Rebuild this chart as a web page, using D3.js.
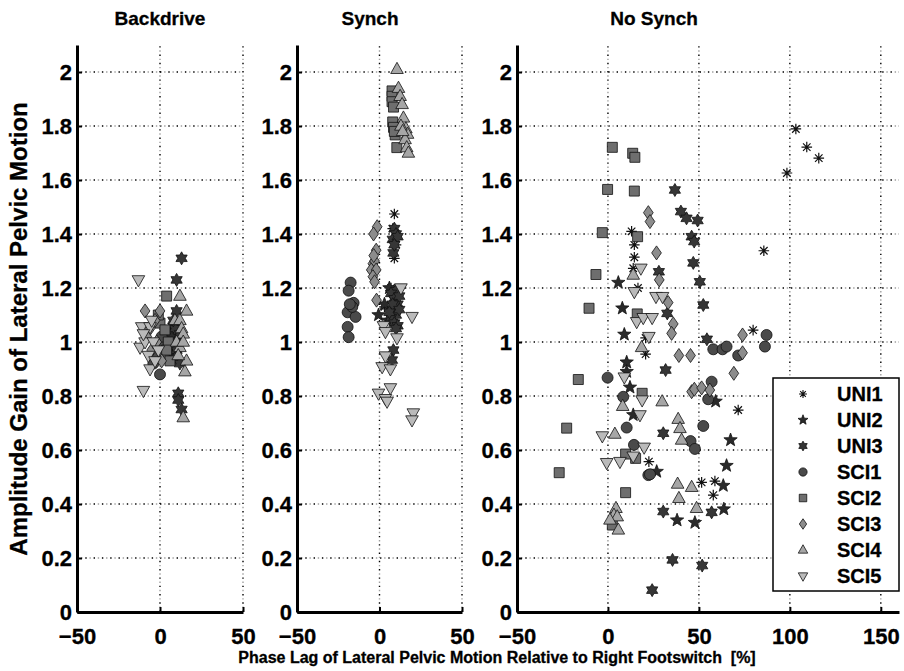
<!DOCTYPE html>
<html lang="en">
<head>
<meta charset="UTF-8">
<title>Amplitude Gain vs Phase Lag</title>
<script src="https://cdn.jsdelivr.net/npm/d3@7"></script>
<style>
  body { margin: 0; background: #fff; }
  text { font-family: "Liberation Sans", Arial, sans-serif; font-weight: bold; fill: #000; stroke: #000; stroke-width: 0.3px; }
</style>
</head>
<body>
<svg id="chart" width="904" height="671"></svg>
<script>

// ---- data (phase lag %, amplitude gain) ----
var subjects = ["UNI1", "UNI2", "UNI3", "SCI1", "SCI2", "SCI3", "SCI4", "SCI5"];
var panelTitles = ["Backdrive", "Synch", "No Synch"];
var yTicks = [0, 0.2, 0.4, 0.6, 0.8, 1, 1.2, 1.4, 1.6, 1.8, 2];
var xTicksShort = [-50, 0, 50];
var xTicksLong = [-50, 0, 50, 100, 150];

var backdrive = {
  UNI1: [[8,1.02],[9,0.98],[7,1.05]],
  UNI2: [[6,0.98],[8,0.95],[7,1.02],[9,1.06]],
  UNI3: [[13,1.31],[10,1.23],[10,1.115],[9,1.05],[11,1.0],[10,0.97],[9,0.94],[12,0.92],[11,0.81],[11,0.785],[13,0.75],[8,1.08],[12,1.03]],
  SCI1: [[0,0.88],[-2,0.95],[2,0.98],[1,1.02],[-4,0.92]],
  SCI2: [[4,1.17],[0,1.07],[3,1.045],[5,1.0],[2,0.95],[6,0.93],[-1,1.1],[4,0.97]],
  SCI3: [[-9,1.115],[0,1.115],[-6,1.05],[-3,1.08],[-5,0.97],[-2,1.0],[-8,1.02],[1,0.93]],
  SCI4: [[12,1.17],[16,1.115],[9,1.08],[12,1.08],[13,1.05],[14,1.03],[16,0.93],[15,0.89],[14,0.72],[12,0.98],[10,1.0],[14,1.0],[11,0.95]],
  SCI5: [[-13,1.23],[-11,1.056],[-6,1.056],[-10,0.82],[-6,0.9],[-12,0.98],[-9,1.0],[-7,0.95],[-4,1.0],[-3,0.93],[-10,1.03],[-1,0.97],[-5,1.08]]
};

var synch = {
  UNI1: [[9,1.474],[8,1.42],[10,1.36],[9,1.31],[3,1.13],[9,1.15],[7,1.2]],
  UNI2: [[-0.6,1.1],[3,1.14],[6,1.2],[5,1.08]],
  UNI3: [[8.4,1.33],[9,1.42],[10,1.4],[8,1.38],[11,1.39],[9,1.36],[10,1.19],[7,1.18],[9,1.16],[11,1.14],[8,1.12],[10,1.1],[7,1.09],[9,1.07],[11,1.06],[10,1.05],[8,1.14],[12,1.12],[8.4,0.97],[7.6,0.933],[6,1.11],[12,1.17]],
  SCI1: [[-17.5,1.22],[-18.7,1.19],[-15.7,1.145],[-17.5,1.126],[-19.3,1.11],[-14.5,1.093],[-19.3,1.056],[-18.7,1.018],[-16.5,1.13],[-18,1.14]],
  SCI2: [[7.6,1.93],[7.6,1.91],[7.6,1.89],[8.5,1.87],[8,1.815],[8.5,1.795],[9.5,1.767],[10.5,1.72],[9,1.78]],
  SCI3: [[-1.4,1.427],[-3.6,1.40],[-4,1.29],[-3,1.3],[-5,1.267],[-2,1.267],[-4,1.242],[-3,1.223],[-1.8,1.155],[-2,1.34],[-3.5,1.32]],
  SCI4: [[10.6,2.01],[11.5,1.94],[12.5,1.91],[13.7,1.88],[14.5,1.83],[16,1.79],[17,1.77],[15.5,1.75],[16.5,1.72],[17.5,1.70],[13,1.8],[14,1.78]],
  SCI5: [[13,1.2],[19.7,1.094],[2.4,1.06],[3.6,1.038],[10.6,1.015],[3.6,0.948],[1.6,0.908],[6.6,0.9],[-0.6,0.81],[6.6,0.83],[3.6,0.79],[4.6,0.78],[20.5,0.737],[19.7,0.711]]
};

var noSynch = {
  UNI1: [[103.3,1.789],[109.3,1.722],[115.9,1.681],[98.4,1.626],[85.7,1.338],[79.8,1.044],[71.6,0.748],[13,1.41],[14.5,1.36],[14.5,1.314],[13.9,1.273],[16.5,1.2],[20.7,1.015],[20.7,0.955],[22.5,0.557],[51.5,0.48],[58.8,0.485],[57.9,0.433]],
  UNI2: [[5.7,1.22],[7.9,1.125],[9,1.028],[10.3,0.925],[10.3,0.89],[12.1,0.832],[13.9,0.73],[26.8,0.52],[38,0.34],[47.8,0.331],[59.2,0.78],[67.4,0.637],[65.2,0.542],[63.4,0.468],[63.7,0.381]],
  UNI3: [[36.8,1.563],[40.1,1.483],[43.2,1.458],[49.3,1.45],[46,1.39],[47.4,1.372],[46.9,1.293],[28,1.26],[50.5,1.223],[52.4,1.137],[32.6,1.106],[54.4,1.01],[31.7,0.896],[30.4,0.662],[30.4,0.372],[57,0.369],[35.5,0.193],[51.8,0.172],[24.3,0.081]],
  SCI1: [[-0.2,0.868],[8.4,0.797],[10.3,0.683],[14.3,0.619],[22.2,0.507],[23.1,0.51],[45.4,0.633],[47.8,0.604],[52.4,0.689],[55.1,0.788],[57,0.853],[57.9,0.973],[63,0.973],[65.2,0.983],[71.6,0.95],[87.2,1.026],[86.3,0.983]],
  SCI2: [[2.4,1.721],[13.6,1.699],[14.8,1.684],[-0.2,1.565],[14.5,1.559],[-3.1,1.405],[16.3,1.39],[-6.6,1.25],[-10.4,1.125],[16.1,1.104],[-16.3,0.861],[-22.7,0.681],[-26.8,0.516],[18.8,0.81],[9.7,0.585],[15.2,0.569],[9.7,0.442],[2.4,0.322]],
  SCI3: [[22.2,1.479],[23.1,1.446],[26.7,1.33],[28.2,1.23],[33.1,1.146],[35.9,1.067],[35,1.032],[39,0.95],[45.4,0.95],[46,0.816],[47.5,0.825],[51.5,0.83],[56,0.822],[74,1.026],[74,0.96],[69.2,0.884]],
  SCI4: [[13.9,1.248],[18.5,0.98],[8.1,0.762],[29.8,0.779],[3.8,0.659],[38.6,0.714],[39.6,0.68],[40.5,0.637],[38.3,0.474],[39,0.421],[46,0.462],[48.7,0.384],[4.4,0.384],[3.3,0.359],[5.1,0.353],[1.1,0.341],[5.7,0.304]],
  SCI5: [[18.1,1.273],[14.5,1.186],[26.4,1.168],[30,1.168],[15.8,1.075],[19.4,1.09],[24.3,1.09],[22.5,1.02],[9,0.87],[18.8,0.785],[17.6,0.73],[-3.1,0.652],[19.9,0.61],[-0.7,0.553],[6.6,0.557],[13.9,0.577]]
};

// ---- styling ----
var markerType = {UNI1:"asterisk", UNI2:"star5", UNI3:"star6", SCI1:"circle", SCI2:"square", SCI3:"diamond", SCI4:"triUp", SCI5:"triDown"};
var markerFill = {UNI1:"none", UNI2:"#2a2a2a", UNI3:"#363636", SCI1:"#4a4a4a", SCI2:"#6e6e6e", SCI3:"#8c8c8c", SCI4:"#a6a6a6", SCI5:"#bababa"};
var markerSize = {UNI1:5.3, UNI2:7, UNI3:6.5, SCI1:5.5, SCI2:5, SCI3:5.4, SCI4:7, SCI5:7};

function markerPath(type, r) {
  var p = d3.path(), i, a, rr;
  if (type === "circle") {
    p.arc(0, 0, r, 0, 2 * Math.PI);
  } else if (type === "square") {
    p.rect(-r, -r, 2 * r, 2 * r);
  } else if (type === "diamond") {
    p.moveTo(0, -r * 1.3); p.lineTo(r * 0.9, 0); p.lineTo(0, r * 1.3); p.lineTo(-r * 0.9, 0); p.closePath();
  } else if (type === "triUp" || type === "triDown") {
    var s = type === "triUp" ? 1 : -1;
    p.moveTo(0, -s * r); p.lineTo(r * 0.9, s * r * 0.6); p.lineTo(-r * 0.9, s * r * 0.6); p.closePath();
  } else if (type === "star5" || type === "star6") {
    var n = type === "star5" ? 5 : 6, inner = type === "star5" ? 0.42 : 0.58;
    for (i = 0; i < 2 * n; i++) {
      a = -Math.PI / 2 + i * Math.PI / n;
      rr = i % 2 ? r * inner : r;
      if (i === 0) p.moveTo(rr * Math.cos(a), rr * Math.sin(a)); else p.lineTo(rr * Math.cos(a), rr * Math.sin(a));
    }
    p.closePath();
  } else if (type === "asterisk") {
    for (i = 0; i < 4; i++) {
      a = i * Math.PI / 4;
      p.moveTo(-r * Math.cos(a), -r * Math.sin(a)); p.lineTo(r * Math.cos(a), r * Math.sin(a));
    }
  }
  return p.toString();
}

var svg = d3.select("#chart");
var y = d3.scaleLinear().domain([0, 2.1]).range([612, 45]);

var panels = [
  {title: panelTitles[0], data: backdrive, x: d3.scaleLinear().domain([-50, 50]).range([77, 243]), ticks: xTicksShort, titleX: 160},
  {title: panelTitles[1], data: synch, x: d3.scaleLinear().domain([-50, 50]).range([297, 462]), ticks: xTicksShort, titleX: 370},
  {title: panelTitles[2], data: noSynch, x: d3.scaleLinear().domain([-50, 160]).range([517, 899]), ticks: xTicksLong, titleX: 654}
];

function dotted(g, x1, y1, x2, y2) {
  g.append("line").attr("x1", x1).attr("y1", y1).attr("x2", x2).attr("y2", y2)
    .attr("stroke", "#000").attr("stroke-width", 1.4).attr("stroke-dasharray", "1.4 6.9");
  g.append("line").attr("x1", x1).attr("y1", y1).attr("x2", x2).attr("y2", y2)
    .attr("stroke", "#a0a0a0").attr("stroke-width", 1.4).attr("stroke-dasharray", "1.4 6.9").attr("stroke-dashoffset", -4.15);
}

panels.forEach(function(pn) {
  var g = svg.append("g");
  var x = pn.x;
  var x0 = x.range()[0], x1 = x.range()[1];

  // grid
  var grid = g.append("g");
  yTicks.forEach(function(t) { if (t > 0) dotted(grid, x0, y(t), x1, y(t)); });
  pn.ticks.forEach(function(t) { if (t > -50) dotted(grid, x(t), y(0), x(t), y(2.1)); });

  // axes
  var ya = g.append("g").attr("transform", "translate(" + x0 + ",0)")
    .call(d3.axisLeft(y).tickValues(yTicks).tickSize(-5).tickSizeOuter(0).tickPadding(5).tickFormat(function(d) { return String(+d.toFixed(1)); }));
  ya.select(".domain").attr("stroke-width", 3);
  ya.selectAll(".tick line").attr("stroke-width", 2);
  ya.selectAll("text").attr("font-size", 22).attr("font-family", null);

  var xa = g.append("g").attr("transform", "translate(0," + y(0) + ")")
    .call(d3.axisBottom(x).tickValues(pn.ticks).tickSize(-5).tickSizeOuter(0).tickPadding(16).tickFormat(d3.format("d")));
  xa.select(".domain").attr("stroke-width", 3);
  xa.selectAll(".tick line").attr("stroke-width", 2);
  xa.selectAll("text").attr("font-size", 22).attr("font-family", null);

  // title
  g.append("text").attr("x", pn.titleX).attr("y", 25).attr("text-anchor", "middle")
    .attr("font-size", 19).text(pn.title);

  // points
  subjects.forEach(function(s) {
    g.append("g").selectAll("path").data(pn.data[s]).enter().append("path")
      .attr("transform", function(d) { return "translate(" + x(d[0]) + "," + y(d[1]) + ")"; })
      .attr("d", markerPath(markerType[s], markerSize[s]))
      .attr("fill", markerFill[s])
      .attr("stroke", "#111")
      .attr("stroke-width", s === "UNI1" ? 1.2 : 0.8);
  });
});

// axis labels
svg.append("text").attr("transform", "translate(27,329) rotate(-90)").attr("text-anchor", "middle")
  .attr("font-size", 24).text("Amplitude Gain of Lateral Pelvic Motion");
svg.append("text").attr("x", 497).attr("y", 663).attr("text-anchor", "middle")
  .attr("font-size", 16).attr("xml:space", "preserve").text("Phase Lag of Lateral Pelvic Motion Relative to Right Footswitch  [%]");

// legend
var lg = svg.append("g");
lg.append("rect").attr("x", 773).attr("y", 378).attr("width", 126).attr("height", 213)
  .attr("fill", "#fff").attr("stroke", "#000").attr("stroke-width", 1.5);
subjects.forEach(function(s, i) {
  var ly = 394 + i * 26;
  lg.append("path").attr("transform", "translate(803," + ly + ")")
    .attr("d", markerPath(markerType[s], markerSize[s] * 0.75))
    .attr("fill", markerFill[s]).attr("stroke", "#111").attr("stroke-width", s === "UNI1" ? 1.1 : 0.8);
  lg.append("text").attr("x", 837).attr("y", ly).attr("dy", "0.36em").attr("font-size", 20).text(s);
});

</script>
</body>
</html>
